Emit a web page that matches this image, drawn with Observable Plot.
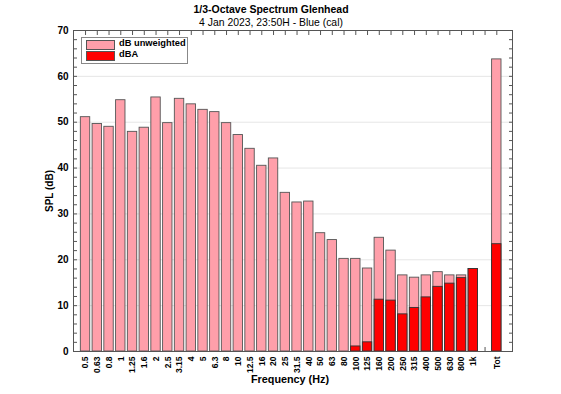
<!DOCTYPE html>
<html><head><meta charset="utf-8">
<script src="https://cdn.jsdelivr.net/npm/d3@7"></script>
<script src="https://cdn.jsdelivr.net/npm/@observablehq/plot@0.6"></script>
<style>
body{margin:0;background:#fff;font-family:"Liberation Sans",Arial,sans-serif;}
#wrap{position:relative;width:561px;height:394px;}
.t{position:absolute;white-space:nowrap;color:#000;}
#title{left:0;width:542px;top:3px;text-align:center;font-size:10.5px;font-weight:bold;}
#sub{left:0;width:542px;top:17px;text-align:center;font-size:10.4px;}
#xlab{left:0;width:580px;top:373px;text-align:center;font-size:10.8px;font-weight:bold;}
#ylab{left:49px;top:191px;transform:translate(-50%,-50%) rotate(-90deg);font-size:10px;font-weight:bold;}
#legend{position:absolute;left:81px;top:37px;width:105px;height:25px;border:1px solid #888;background:#fff;}
.row{position:absolute;left:4px;height:9px;}
.sw{position:absolute;left:0;top:0;width:27px;height:8px;border:1px solid #555;}
.lt{position:absolute;left:33px;top:-2px;font-size:9.3px;font-weight:bold;white-space:nowrap;}
</style></head><body>
<div id="wrap">
<div id="chart"></div>
<div class="t" id="title">1/3-Octave Spectrum Glenhead</div>
<div class="t" id="sub">4 Jan 2023, 23:50H - Blue (cal)</div>
<div class="t" id="xlab">Frequency (Hz)</div>
<div class="t" id="ylab">SPL (dB)</div>
<div id="legend">
  <div class="row" style="top:2px"><div class="sw" style="background:#ff9faa"></div><div class="lt">dB unweighted</div></div>
  <div class="row" style="top:13px"><div class="sw" style="background:#ff0000"></div><div class="lt">dBA</div></div>
</div>
</div>
<script>
const bands = ["0.5","0.63","0.8","1","1.25","1.6","2","2.5","3.15","4","5","6.3","8","10","12.5","16","20","25","31.5","40","50","63","80","100","125","160","200","250","315","400","500","630","800","1k","Tot"];
const unweighted = [51.1,49.6,49.0,54.8,47.9,48.8,55.4,49.8,55.1,53.9,52.7,52.2,49.8,47.2,44.2,40.5,42.1,34.6,32.5,32.7,25.8,24.3,20.2,20.2,18.1,24.8,22.0,16.6,16.1,16.6,17.3,16.6,16.6,18.0,63.7];
const dBA = [null,null,null,null,null,null,null,null,null,null,null,null,null,null,null,null,null,null,null,null,null,null,null,1.1,2.0,11.3,11.1,8.1,9.5,11.8,14.1,14.8,16.0,18.0,23.4];
const slots = [...bands.slice(0,34), "gap", "Tot"];
const yMajor = [0,10,20,30,40,50,60,70];
const yMinor = d3.range(0,71,2);

const data = bands.map((b,i)=>({band:b, dB:unweighted[i], dBA:dBA[i]}));
const fmt = d => d === "gap" ? "" : d;

const plot = Plot.plot({
  width:561, height:394,
  marginLeft:73, marginRight:49, marginTop:30, marginBottom:43,
  style:{fontFamily:"Liberation Sans, Arial, sans-serif", background:"#fff"},
  x:{domain:slots, paddingInner:0.2, paddingOuter:0.78, align:0.4, round:false, label:null},
  y:{domain:[0,70], label:null},
  marks:[
    Plot.gridY(yMajor,{stroke:"#e6e6e6", strokeOpacity:1}),
    Plot.axisX(slots,{anchor:"bottom", tickSize:-4, tickFormat:()=>"", label:null, stroke:"#555"}),
    Plot.axisX(slots,{anchor:"top", tickSize:-4, tickFormat:()=>"", label:null, stroke:"#555"}),
    Plot.axisY(yMinor,{anchor:"left", tickSize:-4, tickFormat:()=>"", label:null, stroke:"#555"}),
    Plot.axisY(yMinor,{anchor:"right", tickSize:-4, tickFormat:()=>"", label:null, stroke:"#555"}),
    Plot.barY(data,{x:"band", y:"dB", fill:"#ff9faa", stroke:"#555", strokeWidth:0.9}),
    Plot.barY(data.filter(d=>d.dBA!=null),{x:"band", y:"dBA", fill:"#ff0000", stroke:"#333", strokeWidth:0.9}),
    Plot.axisX(slots,{anchor:"bottom", tickSize:0, tickPadding:5, tickRotate:-90, tickFormat:fmt, label:null, fontSize:8.5, fontWeight:"bold", fill:"#000"}),
    Plot.axisY(yMajor,{anchor:"left", tickSize:0, tickPadding:5, label:null, fontSize:10, fontWeight:"bold", fill:"#000"}),
    Plot.frame({stroke:"#555"})
  ]
});
document.getElementById("chart").appendChild(plot);
</script>
</body></html>
